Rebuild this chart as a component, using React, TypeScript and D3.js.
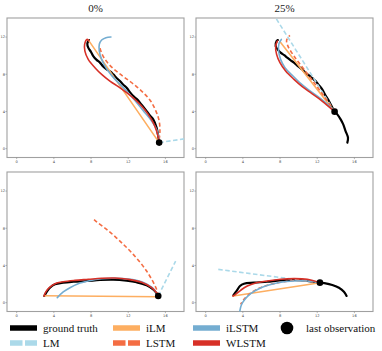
import * as d3 from 'd3'

type Pt = [number, number]

const TITLES = ['0%', '25%']
const TICKS = [0, 4, 8, 12, 16]

// top row: paths going up-left
const gtA: Pt[] = [[7.77, 11.68], [7.6, 11.3], [7.7, 10.86], [8.0, 10.4], [8.24, 9.96], [8.6, 9.55], [8.96, 9.25], [9.3, 8.85], [9.68, 8.53], [10.05, 8.3], [10.39, 7.99], [10.8, 7.55], [11.11, 7.27], [11.5, 6.85], [11.83, 6.56], [12.2, 6.05], [12.54, 5.66], [12.9, 5.35], [13.26, 4.95], [13.65, 4.45], [13.98, 4.04], [14.35, 3.55], [14.69, 3.15], [15.05, 2.26], [15.23, 1.35], [15.33, 0.65]]
const gtB: Pt[] = [[7.77, 11.68], [7.63, 11.57], [7.53, 11.03], [7.8, 10.6], [8.06, 10.32], [8.45, 10.05], [8.78, 9.78], [9.15, 9.5], [9.5, 9.25], [9.95, 8.85], [10.39, 8.53], [10.75, 8.15], [11.11, 7.88], [11.5, 7.55], [11.83, 7.27], [12.2, 6.8], [12.54, 6.38], [12.9, 5.7], [13.26, 5.12], [13.87, 3.98], [14.16, 3.69], [14.52, 3.15], [14.8, 2.61], [15.05, 1.89], [15.31, 1.18], [15.24, 0.65]]
const gtC: Pt[] = [[15.23, 0.72], [14.76, 1.36], [13.98, 1.87], [12.9, 2.19], [11.83, 2.36], [10.39, 2.47], [8.96, 2.44], [7.53, 2.33], [6.09, 2.25], [5.01, 2.15], [4.12, 1.97], [3.58, 1.61], [3.23, 1.15], [2.97, 0.72]]
const gtD: Pt[] = [[15.16, 0.72], [14.87, 1.18], [14.34, 1.61], [13.62, 1.9], [12.9, 2.08], [12.29, 2.15], [10.93, 2.33], [9.5, 2.44], [8.06, 2.4], [6.63, 2.25], [5.19, 2.15], [4.12, 2.04], [3.69, 1.79], [3.33, 1.26], [2.97, 0.79]]

const lastObs: Pt[] = [[15.33, 0.65], [13.87, 3.98], [15.23, 0.72], [12.29, 2.15]]

const lmA: Pt[] = [[15.33, 0.65], [19, 1.2]]
const lmB: Pt[] = [[13.87, 3.98], [7.45, 14.2]]
const lmC: Pt[] = [[15.23, 0.72], [17.1, 4.47]]
const lmD: Pt[] = [[12.29, 2.15], [1.33, 3.58]]

const ilmA: Pt[] = [[15.33, 0.65], [7.7, 11.7]]
const ilmB: Pt[] = [[13.87, 3.98], [8.0, 11.5]]
const ilmC: Pt[] = [[15.23, 0.64], [2.97, 0.75]]
const ilmD: Pt[] = [[12.29, 2.15], [2.97, 0.72]]

const lstmA: Pt[] = [[15.33, 0.98], [15.41, 1.89], [15.33, 2.97], [14.98, 4.04], [14.41, 5.12], [13.69, 5.95], [12.83, 6.73], [11.89, 7.45], [10.93, 8.17], [10.03, 8.96], [9.39, 9.78], [9.06, 10.49], [8.96, 10.86]]
const lstmB: Pt[] = [[13.87, 3.98], [12.72, 5.66], [11.65, 7.1], [10.57, 8.53], [9.5, 9.96], [8.85, 11.03], [8.71, 11.68], [9.06, 12.18]]
const lstmC: Pt[] = [[15.23, 0.72], [15.05, 1.44], [13.98, 3.4], [12.54, 5.19], [11.11, 6.62], [9.68, 7.88], [8.6, 8.69], [8.17, 9.06]]
const lstmD: Pt[] = [[12.29, 2.15], [10.21, 2.4], [8.42, 2.25], [6.99, 1.97], [5.73, 1.54], [4.77, 0.97], [4.12, 0.36], [3.76, -0.18]]

const ilstmA: Pt[] = [[15.33, 0.98], [15.05, 2.08], [14.52, 2.97], [13.8, 3.87], [13.08, 4.76], [12.37, 5.59], [11.65, 6.38], [10.93, 7.1], [10.21, 7.88], [9.6, 8.71], [9.14, 9.6], [8.89, 10.49], [8.89, 11.22], [9.14, 11.68], [9.6, 11.93], [10.14, 12.0]]
const ilstmB: Pt[] = [[13.87, 3.98], [12.9, 4.95], [12.01, 5.66], [11.11, 6.3], [10.21, 7.02], [9.32, 7.88], [8.53, 8.71], [8.06, 9.6], [7.85, 10.49], [7.89, 11.32], [8.14, 11.75]]
const ilstmC: Pt[] = [[15.23, 0.82], [14.52, 1.68], [13.44, 2.26], [12.0, 2.54], [10.57, 2.62], [9.14, 2.58], [7.7, 2.33], [6.62, 2.04], [5.73, 1.61], [5.01, 1.15], [4.37, 0.54]]
const ilstmD: Pt[] = [[12.29, 2.15], [10.93, 2.33], [9.5, 2.33], [8.06, 2.19], [6.8, 1.9], [5.73, 1.5], [4.84, 0.97], [4.23, 0.36], [3.84, -0.25], [3.69, -0.82], [3.65, -1.2]]

const wlstmA: Pt[] = [[15.33, 0.82], [15.05, 1.89], [14.69, 2.8], [14.15, 3.69], [13.44, 4.58], [12.72, 5.3], [11.83, 6.02], [10.93, 6.67], [10.03, 7.27], [9.14, 7.99], [8.42, 8.71], [7.7, 9.6], [7.34, 10.49], [7.31, 11.22], [7.59, 11.75], [7.74, 11.6]]
const wlstmB: Pt[] = [[13.87, 3.98], [13.08, 4.66], [12.19, 5.38], [11.29, 6.02], [10.39, 6.67], [9.5, 7.45], [8.6, 8.35], [7.99, 9.25], [7.63, 10.14], [7.53, 11.03], [7.71, 11.57]]
const wlstmC: Pt[] = [[15.23, 0.82], [14.52, 1.61], [13.44, 2.19], [12.0, 2.51], [10.57, 2.65], [9.14, 2.62], [7.7, 2.51], [6.27, 2.4], [5.01, 2.25], [4.12, 2.04], [3.51, 1.61], [3.15, 1.18], [2.94, 0.72]]
const wlstmD: Pt[] = [[12.29, 2.15], [10.93, 2.51], [9.5, 2.58], [8.06, 2.51], [6.63, 2.33], [5.38, 2.11], [4.48, 1.79], [3.76, 1.33], [3.22, 0.9], [2.94, 0.72]]

const SERIES = [
  { name: 'ground truth', color: '#000000', width: 2.2, dash: '', data: [gtA, gtB, gtC, gtD] },
  { name: 'LM', color: '#abd9e9', width: 1.6, dash: '4.5,2.5', data: [lmA, lmB, lmC, lmD] },
  { name: 'iLM', color: '#fdae61', width: 1.6, dash: '', data: [ilmA, ilmB, ilmC, ilmD] },
  { name: 'LSTM', color: '#f46d43', width: 1.6, dash: '4,2.5', data: [lstmA, lstmB, lstmC, lstmD] },
  { name: 'iLSTM', color: '#74add1', width: 1.6, dash: '', data: [ilstmA, ilstmB, ilstmC, ilstmD] },
  { name: 'WLSTM', color: '#d73027', width: 1.6, dash: '', data: [wlstmA, wlstmB, wlstmC, wlstmD] },
]

const COLS = [7, 196]
const ROWS = [18, 172]
const PW = 177
const PH = 139.5
const SERIF = 'Liberation Serif'

export default function App() {
  const panels = [0, 1, 2, 3].map(i => {
    const left = COLS[i % 2]
    const top = ROWS[Math.floor(i / 2)]
    const x = d3.scaleLinear().domain([-1.04, 18]).range([left, left + PW])
    const y = d3.scaleLinear().domain([-0.95, 14.05]).range([top + PH, top])
    const line = d3.line<Pt>().x(d => x(d[0])).y(d => y(d[1])).curve(d3.curveCatmullRom.alpha(0.5))
    return { i, left, top, x, y, line }
  })

  const legendRows = [
    [{ s: SERIES[0], x: 10 }, { s: SERIES[2], x: 113 }, { s: SERIES[4], x: 193 }],
    [{ s: SERIES[1], x: 10 }, { s: SERIES[3], x: 113 }, { s: SERIES[5], x: 193 }],
  ]
  const legendY = [328, 343]

  return (
    <svg width={382} height={351} style={{ position: 'absolute', left: 0, top: 0 }}>
      <defs>
        {panels.map(p => (
          <clipPath id={`clip${p.i}`} key={p.i}>
            <rect x={p.left} y={p.top} width={PW} height={PH} />
          </clipPath>
        ))}
      </defs>
      {TITLES.map((t, k) => (
        <text key={t} x={COLS[k] + PW / 2} y={12} textAnchor="middle"
          fontFamily={SERIF} fontSize={11} fill="#222">{t}</text>
      ))}
      {panels.map(p => (
        <g key={p.i}>
          <rect x={p.left} y={p.top} width={PW} height={PH} fill="#fff" stroke="#a0a0a0" strokeWidth={1.1} />
          {TICKS.map(t => (
            <g key={'x' + t}>
              <line x1={p.x(t)} x2={p.x(t)} y1={p.top + PH} y2={p.top + PH + 1.6} stroke="#888" strokeWidth={0.6} />
              <text x={p.x(t)} y={p.top + PH + 5.5} textAnchor="middle" fontSize={3.6}
                fontFamily="DejaVu Sans" fill="#444">{t}</text>
            </g>
          ))}
          {TICKS.slice(0, 4).map(t => (
            <g key={'y' + t}>
              <line x1={p.left - 1.6} x2={p.left} y1={p.y(t)} y2={p.y(t)} stroke="#888" strokeWidth={0.6} />
              <text x={p.left - 2} y={p.y(t) + 1.3} textAnchor="end" fontSize={3.6}
                fontFamily="DejaVu Sans" fill="#444">{t}</text>
            </g>
          ))}
          <g clipPath={`url(#clip${p.i})`}>
            {SERIES.map(s => (
              <path key={s.name} d={p.line(s.data[p.i]) || ''} fill="none" stroke={s.color}
                strokeWidth={s.width} strokeDasharray={s.dash || undefined}
                strokeLinecap={s.dash ? 'butt' : 'round'} strokeLinejoin="round" />
            ))}
            <circle cx={p.x(lastObs[p.i][0])} cy={p.y(lastObs[p.i][1])} r={3.3} fill="#000" />
          </g>
        </g>
      ))}
      {legendRows.map((row, r) => row.map(({ s, x }) => (
        <g key={s.name}>
          <line x1={x} x2={x + 27} y1={legendY[r]} y2={legendY[r]} stroke={s.color} strokeWidth={5.5}
            strokeDasharray={s.dash ? '12.5,2.5' : undefined} />
          <text x={x + 33} y={legendY[r] + 3.8} fontFamily={SERIF} fontSize={11} fill="#111">{s.name}</text>
        </g>
      )))}
      <circle cx={287} cy={legendY[0]} r={6.3} fill="#000" />
      <text x={306} y={legendY[0] + 3.8} fontFamily={SERIF} fontSize={11} fill="#111">last observation</text>
    </svg>
  )
}
